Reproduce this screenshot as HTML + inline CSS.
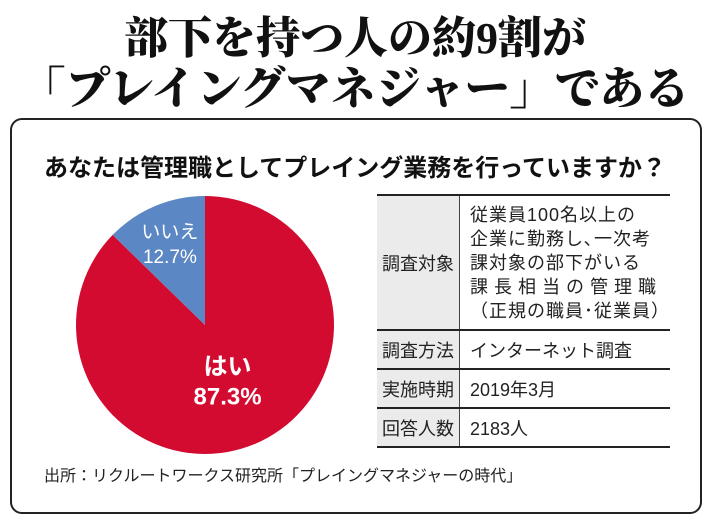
<!DOCTYPE html>
<html><head><meta charset="utf-8"><style>
body{margin:0;width:710px;height:524px;background:#fff;overflow:hidden;position:relative;font-family:"Liberation Sans","Noto Sans CJK JP",sans-serif}
.t{position:absolute;left:0;width:710px;text-align:center;font-family:"Liberation Serif","Noto Serif CJK SC",serif;font-weight:900;color:#111;font-size:44px;line-height:50px}
#box{position:absolute;left:10px;top:118px;width:688px;height:392px;border:2px solid #222;border-radius:12px}
.q{position:absolute;left:0;width:710px;top:148px;text-align:center;font-size:24px;font-weight:bold;color:#111}
table{position:absolute;left:377px;top:194px;width:293px;border-collapse:collapse;font-size:18px;color:#222}
td{border-top:2px solid #222;border-bottom:2px solid #222;padding:0 0 0 10px;white-space:nowrap}
td.l{background:#ebebeb;border-right:1px solid #444;width:96px;text-align:center;padding:0}
.src{position:absolute;left:44px;top:462px;font-size:16px;color:#222}
</style></head><body>
<div class="t" style="top:14px">部下を持つ人の約9割が</div>
<div class="t" style="top:64px;font-size:45px">「プレイングマネジャー」である</div>
<div id="box"></div>
<div class="q">あなたは管理職としてプレイング業務を行っていますか？</div>
<svg id="pie" width="710" height="524" style="position:absolute;left:0;top:0"></svg>
<table>
<tr style="height:135px"><td class="l">調査対象</td><td style="line-height:24px;letter-spacing:1px">従業員100名以上の<br>企業に勤務し､一次考<br>課対象の部下がいる<br><span style="letter-spacing:6px">課長相当の管理職</span><br>（正規の職員･従業員）</td></tr>
<tr style="height:39px"><td class="l">調査方法</td><td>インターネット調査</td></tr>
<tr style="height:39px"><td class="l">実施時期</td><td>2019年3月</td></tr>
<tr style="height:39px"><td class="l">回答人数</td><td>2183人</td></tr>
</table>
<div class="src">出所：リクルートワークス研究所「プレイングマネジャーの時代」</div>
<script>
const labels=["はい","いいえ"];
const values=[87.3,12.7];
const colors=["#d30b30","#5b87c5"];
const svg=document.getElementById('pie');
const cx=205,cy=325,r=129,NS="http://www.w3.org/2000/svg";
const total=values.reduce((a,b)=>a+b,0);
let a0=0;
values.forEach((v,i)=>{
 const a1=a0+v/total*2*Math.PI;
 const p=t=>[cx+r*Math.sin(t),cy-r*Math.cos(t)];
 const [x0,y0]=p(a0),[x1,y1]=p(a1);
 const path=document.createElementNS(NS,'path');
 path.setAttribute('d',`M${cx},${cy}L${x0},${y0}A${r},${r} 0 ${a1-a0>Math.PI?1:0} 1 ${x1},${y1}Z`);
 path.setAttribute('fill',colors[i]);
 
 
 svg.appendChild(path);
 const mid=(a0+a1)/2, lr=i===0?r*0.45:r*0.7;
 const lx=cx+lr*Math.sin(mid), ly=cy-lr*Math.cos(mid);
 const fs=i===0?24:19;
 [labels[i],v.toFixed(1)+"%"].forEach((s,k)=>{
  const t=document.createElementNS(NS,'text');
  t.setAttribute('x',lx);t.setAttribute('y',ly+(k===0?-4:fs+2));
  t.setAttribute('text-anchor','middle');t.setAttribute('fill','#fff');
  t.setAttribute('font-size',fs);t.setAttribute('font-weight',i===0?'bold':'normal');
  
  
  t.textContent=s;svg.appendChild(t);
 });
 a0=a1;
});
</script>
</body></html>
